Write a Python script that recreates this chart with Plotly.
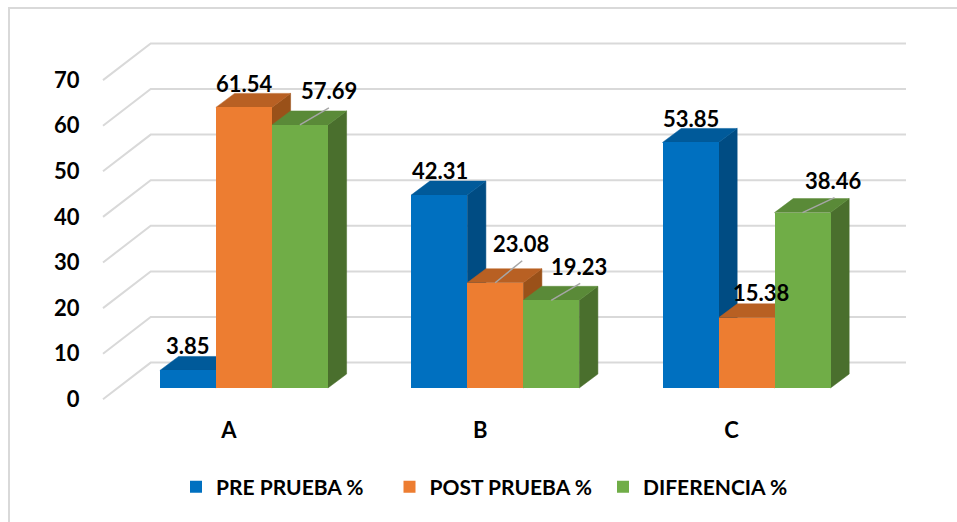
import plotly.graph_objects as go

categories = ["A", "B", "C"]
series_names = ["PRE PRUEBA %", "POST PRUEBA %", "DIFERENCIA %"]
pre_prueba = [3.85, 42.31, 53.85]
post_prueba = [61.54, 23.08, 15.38]
diferencia = [57.69, 19.23, 38.46]
series_values = [pre_prueba, post_prueba, diferencia]
y_ticks = [0, 10, 20, 30, 40, 50, 60, 70]

front_colors = ["#0070C0", "#ED7D31", "#70AD47"]
top_colors = ["#005A9A", "#B86023", "#5A8A38"]
side_colors = ["#004C83", "#9A5119", "#4A6F2D"]
GRID = "#D9D9D9"
FONT = "Lato"
FS = 22
LEGEND_FS = 21

W, H = 957, 522
PX_X = 251.3   # pixels per category
PX_Y = 4.56    # pixels per value unit
ORIGIN_X, ORIGIN_Y = 229.0, 399.3  # category A / value 0 on the front plane
L, R, T, B = 90, 915, 25, 409
x_range = [(L - ORIGIN_X) / PX_X, (R - ORIGIN_X) / PX_X]
y_range = [(ORIGIN_Y - B) / PX_Y, (ORIGIN_Y - T) / PX_Y]

def dx(px):
    return px / PX_X

def dy(px):
    return px / PX_Y

def paper_x(px):
    return (px - L) / (R - L)

def paper_y(px):
    return (B - px) / (B - T)

WALL_DX, WALL_DY = dx(47.7), dy(36.7)
WALL_LEFT = dx(103 - ORIGIN_X)
WALL_RIGHT = dx(906 - ORIGIN_X)
BAR_W = dx(56)
BAR_DX, BAR_DY = dx(18.7), dy(14)
FRONT_DX, FRONT_BASE = dx(14.9), dy(11.3)

fig = go.Figure()

# walls
for t in y_ticks:
    fig.add_trace(go.Scatter(
        x=[WALL_LEFT, WALL_LEFT + WALL_DX, WALL_RIGHT],
        y=[t, t + WALL_DY, t + WALL_DY],
        mode="lines", line=dict(color=GRID, width=2),
        showlegend=False, hoverinfo="skip"))

def bar_x(cat, s):
    return cat + FRONT_DX + (s - 1) * BAR_W

# top and side faces, left to right
for c in range(len(categories)):
    for s, vals in enumerate(series_values):
        xc = bar_x(c, s)
        x0, x1 = xc - BAR_W / 2, xc + BAR_W / 2
        top = FRONT_BASE + vals[c]
        fig.add_trace(go.Scatter(
            x=[x1, x1 + BAR_DX, x1 + BAR_DX, x1, x1],
            y=[FRONT_BASE, FRONT_BASE + BAR_DY, top + BAR_DY, top, FRONT_BASE],
            mode="lines", fill="toself", fillcolor=side_colors[s],
            line=dict(color=side_colors[s], width=0.5),
            showlegend=False, hoverinfo="skip"))
        fig.add_trace(go.Scatter(
            x=[x0, x1, x1 + BAR_DX, x0 + BAR_DX, x0],
            y=[top, top, top + BAR_DY, top + BAR_DY, top],
            mode="lines", fill="toself", fillcolor=top_colors[s],
            line=dict(color=top_colors[s], width=0.5),
            showlegend=False, hoverinfo="skip"))

# front faces
for s, vals in enumerate(series_values):
    fig.add_trace(go.Bar(
        x=[bar_x(c, s) for c in range(len(categories))],
        y=vals, base=[FRONT_BASE] * len(vals), width=BAR_W,
        name=series_names[s], marker=dict(color=front_colors[s], line=dict(width=0)),
        xaxis="x2", yaxis="y2"))

# data labels: (series, category) -> pixel offset of the text, leader line end
label_offsets = {
    (0, 0): (0, -25), (1, 0): (1, -24), (2, 0): (29, -34),
    (0, 1): (1, -25), (1, 1): (26, -39), (2, 1): (28, -34),
    (0, 2): (0, -24), (1, 2): (14, -25), (2, 2): (31, -32),
}
leader_offsets = {
    (2, 0): (29, -17), (1, 1): (27, -22), (2, 1): (29, -17), (2, 2): (32, -15),
}
annotations = []
for (s, c), (ox, oy) in label_offsets.items():
    v = series_values[s][c]
    annotations.append(dict(
        x=bar_x(c, s), y=FRONT_BASE + v, xref="x2", yref="y2",
        text=f"{v:.2f}", showarrow=False, xanchor="center", yanchor="middle",
        xshift=ox, yshift=-oy, font=dict(family=FONT, size=FS, color="#000000", weight="bold")))

for (s, c), (ox, oy) in leader_offsets.items():
    v = series_values[s][c]
    xc, yc = bar_x(c, s), FRONT_BASE + v
    fig.add_trace(go.Scatter(
        x=[xc, xc + dx(ox)], y=[yc, yc - dy(oy)], mode="lines",
        line=dict(color="#A6A6A6", width=1.5), showlegend=False, hoverinfo="skip",
        xaxis="x2", yaxis="y2"))

tickfont = dict(family=FONT, size=FS, color="#000000", weight="bold")
axis_off = dict(showgrid=False, zeroline=False, showline=False)
fig.update_layout(
    width=W, height=H, autosize=False,
    margin=dict(l=L, r=W - R, t=T, b=H - B, pad=0),
    paper_bgcolor="#FFFFFF", plot_bgcolor="rgba(0,0,0,0)",
    barmode="overlay", bargap=0,
    xaxis=dict(range=x_range, tickmode="array", tickvals=list(range(len(categories))),
               ticktext=categories, tickfont=tickfont, ticks="outside", ticklen=2,
               tickcolor="rgba(0,0,0,0)", fixedrange=True, **axis_off),
    yaxis=dict(range=y_range, tickmode="array", tickvals=y_ticks, tickfont=tickfont,
               ticks="outside", ticklen=5, tickcolor="rgba(0,0,0,0)", fixedrange=True, **axis_off),
    xaxis2=dict(range=x_range, overlaying="x", visible=False, fixedrange=True, **axis_off),
    yaxis2=dict(range=y_range, overlaying="y", visible=False, fixedrange=True, **axis_off),
    legend=dict(orientation="h", x=paper_x(176), xanchor="left", y=paper_y(487), yanchor="middle",
                font=dict(family=FONT, size=LEGEND_FS, color="#000000", weight="bold"),
                itemclick=False, itemdoubleclick=False, bgcolor="rgba(0,0,0,0)",
                traceorder="normal", entrywidth=168.5, entrywidthmode="pixels"),
    annotations=annotations,
    showlegend=True,
)

# chart frame (top and left edges)
fig.add_shape(type="line", xref="paper", yref="paper", x0=paper_x(9), x1=paper_x(W),
              y0=paper_y(8), y1=paper_y(8), line=dict(color=GRID, width=2))
fig.add_shape(type="line", xref="paper", yref="paper", x0=paper_x(9), x1=paper_x(9),
              y0=paper_y(7), y1=paper_y(H), line=dict(color=GRID, width=2))

fig.write_html("out.html", config=dict(displayModeBar=False),
               post_script="document.body.style.margin='0';")
